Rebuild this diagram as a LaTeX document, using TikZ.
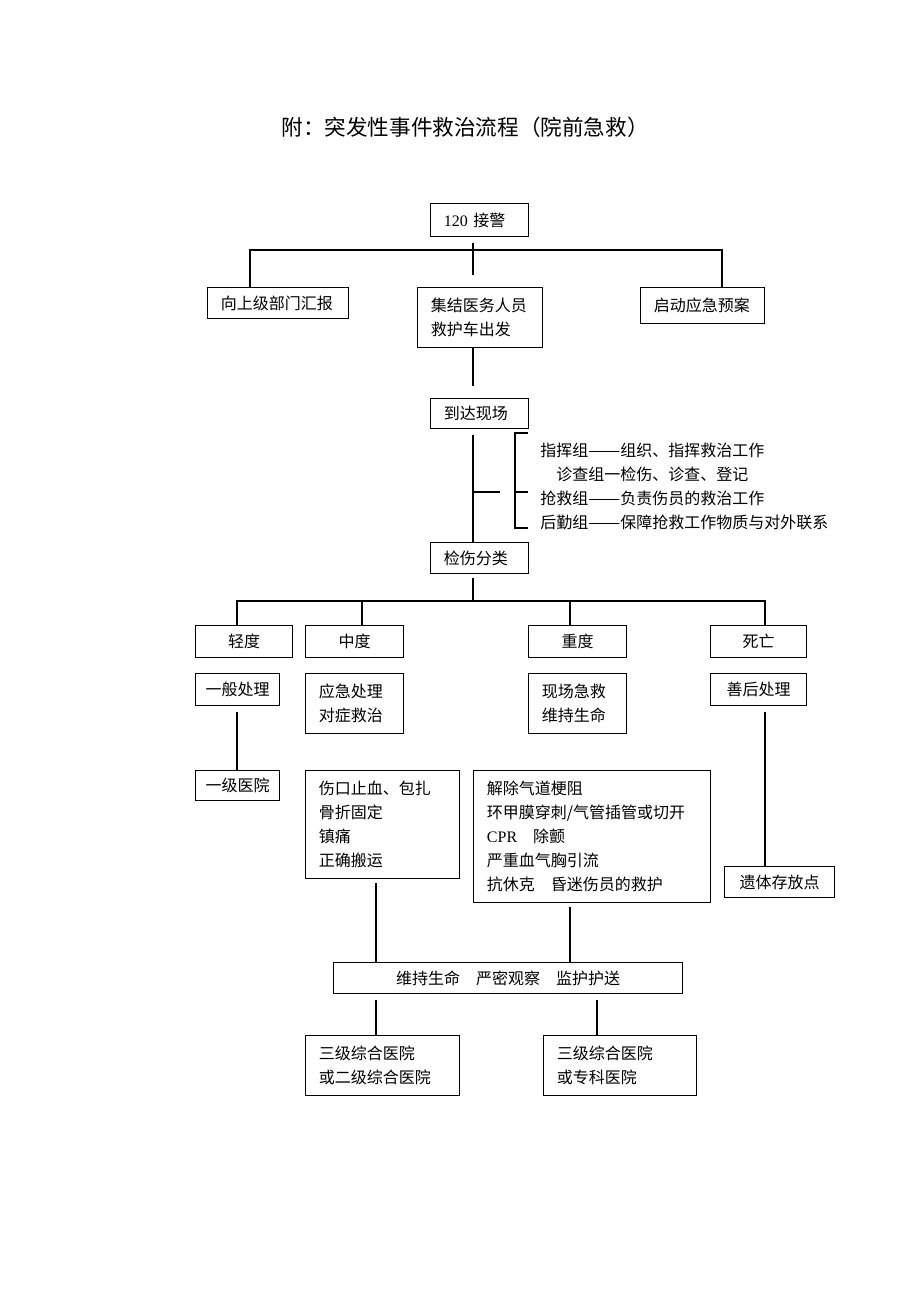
\documentclass[tikz,border=0pt]{standalone}
\usepackage{fontspec}
\setmainfont{Noto Sans CJK SC}
\newfontfamily\latinfont{Liberation Serif}
\usepackage{tikz}
\usetikzlibrary{positioning,calc}
\newcommand{\longdash}{\resizebox{24pt}{\height}{——}}

\begin{document}
\begin{tikzpicture}[
        x=0.75pt, y=-0.75pt,
        box/.style={draw, line width=0.9pt, anchor=north west, inner xsep=5pt, inner ysep=0pt, font=\fontsize{12}{18}\selectfont, align=center},
        lbox/.style={box, inner xsep=10pt, align=left},
        teams/.style={anchor=north west, inner sep=0pt, font=\fontsize{12}{18}\selectfont, align=left},
        link/.style={line width=0.9pt}
    ]
        \useasboundingbox (0,0) rectangle (920,1302);

        % Title
        \node[font=\fontsize{16.2}{18}\selectfont] (title) at (465,127) {附：突发性事件救治流程（院前急救）};

        % Top
        \node[lbox, text width=53.5pt, minimum height=24.75pt] (alarm) at (430,203) {{\latinfont 120} 接警};
        \node[lbox, text width=85.75pt, minimum height=23.25pt] (report) at (207,287) {向上级部门汇报};
        \node[lbox, text width=73.75pt, minimum height=45pt] (gather) at (417,287) {集结医务人员\\救护车出发};
        \node[lbox, text width=73pt, minimum height=27pt] (plan) at (640,287) {启动应急预案};
        \node[lbox, text width=53.5pt, minimum height=22.5pt] (arrive) at (430,398) {到达现场};
        \node[teams] (teams) at (540,443) {指挥组\longdash 组织、指挥救治工作\\\hspace{12pt}诊查组一检伤、诊查、登记\\抢救组\longdash 负责伤员的救治工作\\后勤组\longdash 保障抢救工作物质与对外联系};
        \node[lbox, text width=53.5pt, minimum height=23.25pt] (triage) at (430,542) {检伤分类};

        % Severity
        \node[box, minimum width=72.75pt, minimum height=24pt] (mild) at (195,625) {轻度};
        \node[box, minimum width=73.5pt, minimum height=24pt] (moderate) at (305,625) {中度};
        \node[box, minimum width=73.5pt, minimum height=24pt] (severe) at (528,625) {重度};
        \node[box, minimum width=72pt, minimum height=24pt] (death) at (710,625) {死亡};

        % Actions
        \node[box, minimum width=63pt, minimum height=24pt] (mildAct) at (195,673) {一般处理};
        \node[lbox, text width=53.5pt, minimum height=45pt] (modAct) at (305,673) {应急处理\\对症救治};
        \node[lbox, text width=53.5pt, minimum height=45pt] (sevAct) at (528,673) {现场急救\\维持生命};
        \node[box, minimum width=72pt, minimum height=24pt] (deathAct) at (710,673) {善后处理};

        \node[box, minimum width=63pt, minimum height=22.5pt] (hosp1) at (195,770) {一级医院};
        \node[lbox, text width=95.5pt, minimum height=81pt] (modCare) at (305,770) {伤口止血、包扎\\骨折固定\\镇痛\\正确搬运};
        \node[lbox, text width=157.75pt, minimum height=99pt] (sevCare) at (473,770) {解除气道梗阻\\环甲膜穿刺/气管插管或切开\\{\latinfont CPR}\quad 除颤\\严重血气胸引流\\抗休克\quad 昏迷伤员的救护};
        \node[box, minimum width=82.5pt, minimum height=23.25pt] (body) at (724,866) {遗体存放点};

        % Transfer
        \node[box, minimum width=261.75pt, minimum height=23.25pt] (transport) at (333,962) {维持生命\quad 严密观察\quad 监护护送};
        \node[lbox, text width=95.5pt, minimum height=45pt] (destA) at (305,1035) {三级综合医院\\或二级综合医院};
        \node[lbox, text width=94.75pt, minimum height=45pt] (destB) at (543,1035) {三级综合医院\\或专科医院};

        % Line positions
        \coordinate (xSpine) at (473,0);
        \coordinate (xReport) at (250,0);
        \coordinate (xPlan) at (722,0);
        \coordinate (xMild) at (237,0);
        \coordinate (xModerate) at (362,0);
        \coordinate (xSevere) at (570,0);
        \coordinate (xDeath) at (765,0);
        \coordinate (xLeft) at (376,0);
        \coordinate (xRight) at (597,0);
        \coordinate (busTop) at (473,250);
        \coordinate (busMid) at (473,601);
        \coordinate (brTop) at (515,433);
        \coordinate (brMid) at (515,492);
        \coordinate (brBot) at (515,528);

        % Connections
        \draw[link, shorten <=4pt, shorten >=9pt] (xSpine |- alarm.south) -- (xSpine |- gather.north);
        \draw[link] (xReport |- report.north) -- (xReport |- busTop) -- (xPlan |- busTop) -- (xPlan |- plan.north);
        \draw[link, shorten >=9pt] (xSpine |- gather.south) -- (xSpine |- arrive.north);
        \draw[link, shorten <=4pt] (xSpine |- arrive.south) -- (xSpine |- triage.north);
        \draw[link] (xSpine |- brMid) -- ++(27,0);
        \draw[link] ([xshift=10pt]brTop) -- (brTop) -- (brBot) -- ([xshift=10pt]brBot);
        \draw[link] (brMid) -- ([xshift=10pt]brMid);
        \draw[link, shorten <=3pt] (xSpine |- triage.south) -- (busMid);
        \draw[link] (xMild |- mild.north) -- (xMild |- busMid) -- (xDeath |- busMid) -- (xDeath |- death.north);
        \draw[link] (xModerate |- busMid) -- (xModerate |- moderate.north);
        \draw[link] (xSevere |- busMid) -- (xSevere |- severe.north);
        \draw[link, shorten <=4pt] (xMild |- mildAct.south) -- (xMild |- hosp1.north);
        \draw[link, shorten <=4pt] (xDeath |- deathAct.south) -- (xDeath |- body.north);
        \draw[link, shorten <=3pt] (xLeft |- modCare.south) -- (xLeft |- transport.north);
        \draw[link, shorten <=3pt] (xSevere |- sevCare.south) -- (xSevere |- transport.north);
        \draw[link, shorten <=4pt] (xLeft |- transport.south) -- (xLeft |- destA.north);
        \draw[link, shorten <=4pt] (xRight |- transport.south) -- (xRight |- destB.north);
    \end{tikzpicture}
\end{document}
